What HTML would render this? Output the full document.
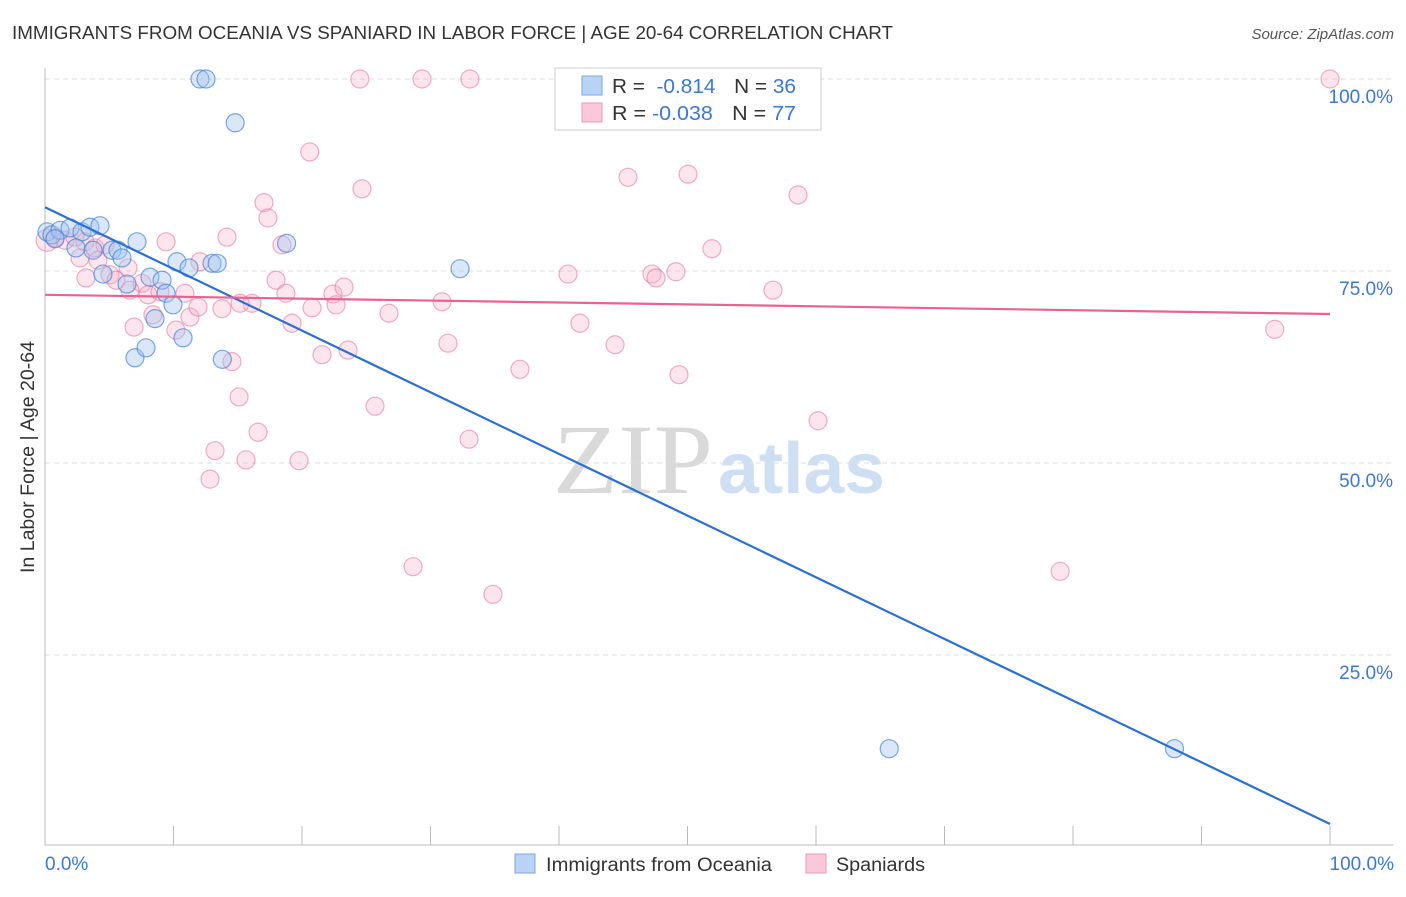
<!DOCTYPE html>
<html><head><meta charset="utf-8"><style>
body{margin:0;background:#fff;font-family:"Liberation Sans",sans-serif}
</style></head><body>
<svg id="chart" width="1406" height="892" xmlns="http://www.w3.org/2000/svg" font-family="Liberation Sans, sans-serif">
<text x="12" y="39" font-size="18" fill="#333" textLength="881" lengthAdjust="spacingAndGlyphs">IMMIGRANTS FROM OCEANIA VS SPANIARD IN LABOR FORCE | AGE 20-64 CORRELATION CHART</text>
<text x="1394" y="39" font-size="15" fill="#555" text-anchor="end" font-style="italic">Source: ZipAtlas.com</text>
<text transform="translate(34,457) rotate(-90)" font-size="19" fill="#333" text-anchor="middle" textLength="232" lengthAdjust="spacingAndGlyphs">In Labor Force | Age 20-64</text>
<g>
<text x="553" y="493" font-size="100" fill="#d9d9d9" font-family="Liberation Serif, serif" textLength="160" lengthAdjust="spacingAndGlyphs">ZIP</text>
<text x="718" y="493" font-size="72" fill="#cfdff3" font-weight="bold" font-family="Liberation Sans, sans-serif" textLength="167" lengthAdjust="spacingAndGlyphs">atlas</text>
</g>
<g id="grid"></g><g id="axes"></g><g id="pts"></g><g id="lines"></g>
<g>
<rect x="555" y="68" width="266" height="62" fill="#fff" stroke="#ccc"/>
<rect x="582" y="76" width="20" height="19" fill="#b9d3f5" stroke="#7aa7e0"/>
<rect x="582" y="103" width="20" height="19" fill="#fac8d7" stroke="#eb9ab4"/>
<text x="612" y="93" font-size="20" fill="#333" textLength="184" lengthAdjust="spacingAndGlyphs">R = <tspan fill="#3a78d4">&#160;-0.814</tspan><tspan dx="18">N = </tspan><tspan fill="#3a78d4">36</tspan></text>
<text x="612" y="120" font-size="20" fill="#333" textLength="184" lengthAdjust="spacingAndGlyphs">R = <tspan fill="#3a78d4">-0.038</tspan><tspan dx="18">N = </tspan><tspan fill="#3a78d4">77</tspan></text>
</g>
<g>
<rect x="515" y="854" width="20" height="19" fill="#b9d3f5" stroke="#7aa7e0"/>
<text x="546" y="871" font-size="19" fill="#333" textLength="226" lengthAdjust="spacingAndGlyphs">Immigrants from Oceania</text>
<rect x="806" y="854" width="20" height="19" fill="#fac8d7" stroke="#eb9ab4"/>
<text x="836" y="871" font-size="19" fill="#333" textLength="89" lengthAdjust="spacingAndGlyphs">Spaniards</text>
</g>
</svg>
<script>
const yTicks=[100,75,50,25];
const yTickLabels=["100.0%","75.0%","50.0%","25.0%"];
const xTickLabels=["0.0%","100.0%"];
const blueX=[0.16,0.54,1.17,1.95,2.88,3.5,4.28,2.41,3.74,5.21,5.68,5.99,7.16,4.51,6.38,8.17,9.11,9.42,8.56,9.96,10.27,11.21,10.74,13.0,13.4,13.8,7.0,7.86,12.06,12.53,14.8,18.8,32.3,65.7,87.9,0.78];
const blueY=[80.1,79.7,80.3,80.6,80.1,80.7,80.9,78.0,77.7,77.7,77.7,76.7,78.8,74.6,73.3,74.2,73.8,72.1,68.8,70.6,76.2,75.4,66.3,76.0,76.0,63.5,63.7,65.0,100,100,94.3,78.6,75.3,12.8,12.8,79.2];
const pinkX=[0.16,0.78,1.56,2.33,3.11,3.89,4.67,2.72,4.12,5.06,6.46,3.19,5.53,7.55,6.61,8.02,8.95,6.93,8.4,9.42,10.19,10.89,11.28,11.91,12.06,12.84,13.23,13.77,14.16,14.55,15.1,15.64,16.11,16.58,17.04,17.35,17.98,18.44,18.75,19.22,19.77,20.6,20.78,21.56,22.41,22.65,23.27,23.58,24.5,24.67,25.68,26.77,28.64,29.34,30.9,31.36,33.0,33.07,34.86,36.96,40.7,41.63,44.36,45.37,47.24,47.55,49.1,49.34,50.04,51.9,56.65,58.6,60.16,79.0,95.7,100,15.18];
const pinkY=[79.0,79.3,79.0,79.4,78.8,78.0,78.4,76.7,76.4,74.5,75.4,74.1,73.8,73.4,72.5,71.9,72.3,67.7,69.3,78.8,67.3,72.1,69.0,70.3,76.2,47.9,51.6,70.1,79.4,63.2,58.6,50.4,70.8,54.0,83.9,81.9,73.8,78.4,72.1,68.2,50.3,90.5,70.2,64.1,72.0,70.6,72.9,64.7,100,85.7,57.4,69.5,36.5,100,71.0,65.6,53.1,100,32.9,62.2,74.6,68.2,65.4,87.2,74.6,74.1,74.9,61.5,87.6,77.9,72.5,84.9,55.5,35.9,67.4,100,70.8];
const blueTrend=[83.3,3.0];
const pinkTrend=[71.9,69.4];
const NS='http://www.w3.org/2000/svg';
const X0=45,X1=1330,Y0=847,Y100=79;
const sx=v=>X0+(X1-X0)*v/100;
const sy=v=>Y0-(Y0-Y100)*v/100;
function mk(t,a,p){const e=document.createElementNS(NS,t);for(const k in a)e.setAttribute(k,a[k]);document.getElementById(p).appendChild(e);return e;}
yTicks.forEach((t,i)=>{
 const l=mk('line',{x1:X0,x2:1394,y1:sy(t),y2:sy(t),stroke:'#ddd','stroke-dasharray':'5,4'},'grid');
 
 
 const tx=mk('text',{x:1393,y:sy(t)+24,'font-size':19,fill:'#3a78d4','text-anchor':'end'},'axes');
 tx.textContent=yTickLabels[i];
 
 
});
const ax=mk('line',{x1:X0,x2:X0,y1:68,y2:845,stroke:'#bbb'},'axes');


const bx=mk('line',{x1:X0,x2:1394,y1:845,y2:845,stroke:'#bbb'},'axes');


for(let i=0;i<=10;i++){
 const t=mk('line',{x1:sx(i*10),x2:sx(i*10),y1:826,y2:845,stroke:'#bbb'},'axes');
 
 
}
[[0,'start',45],[1,'end',1394]].forEach(([i,anc,x])=>{
 const t=mk('text',{x:x,y:870,'font-size':19,fill:'#3a78d4','text-anchor':anc},'axes');
 t.textContent=xTickLabels[i];
 
 
});
pinkX.forEach((v,i)=>{
 const c=mk('circle',{cx:sx(v),cy:sy(pinkY[i]),r:i==0?11:9,fill:'rgba(246,168,194,0.3)',stroke:'rgba(230,120,158,0.6)','stroke-width':1.2},'pts');
 
 
});
blueX.forEach((v,i)=>{
 const c=mk('circle',{cx:sx(v),cy:sy(blueY[i]),r:9,fill:'rgba(160,196,240,0.4)',stroke:'rgba(70,130,215,0.7)','stroke-width':1.2},'pts');
 
 
});
const bl=mk('line',{x1:sx(0),y1:sy(blueTrend[0]),x2:sx(100),y2:sy(blueTrend[1]),stroke:'#2a6fd6','stroke-width':2.2},'lines');


const pl=mk('line',{x1:sx(0),y1:sy(pinkTrend[0]),x2:sx(100),y2:sy(pinkTrend[1]),stroke:'#e8648e','stroke-width':2.2},'lines');


</script>
</body></html>
